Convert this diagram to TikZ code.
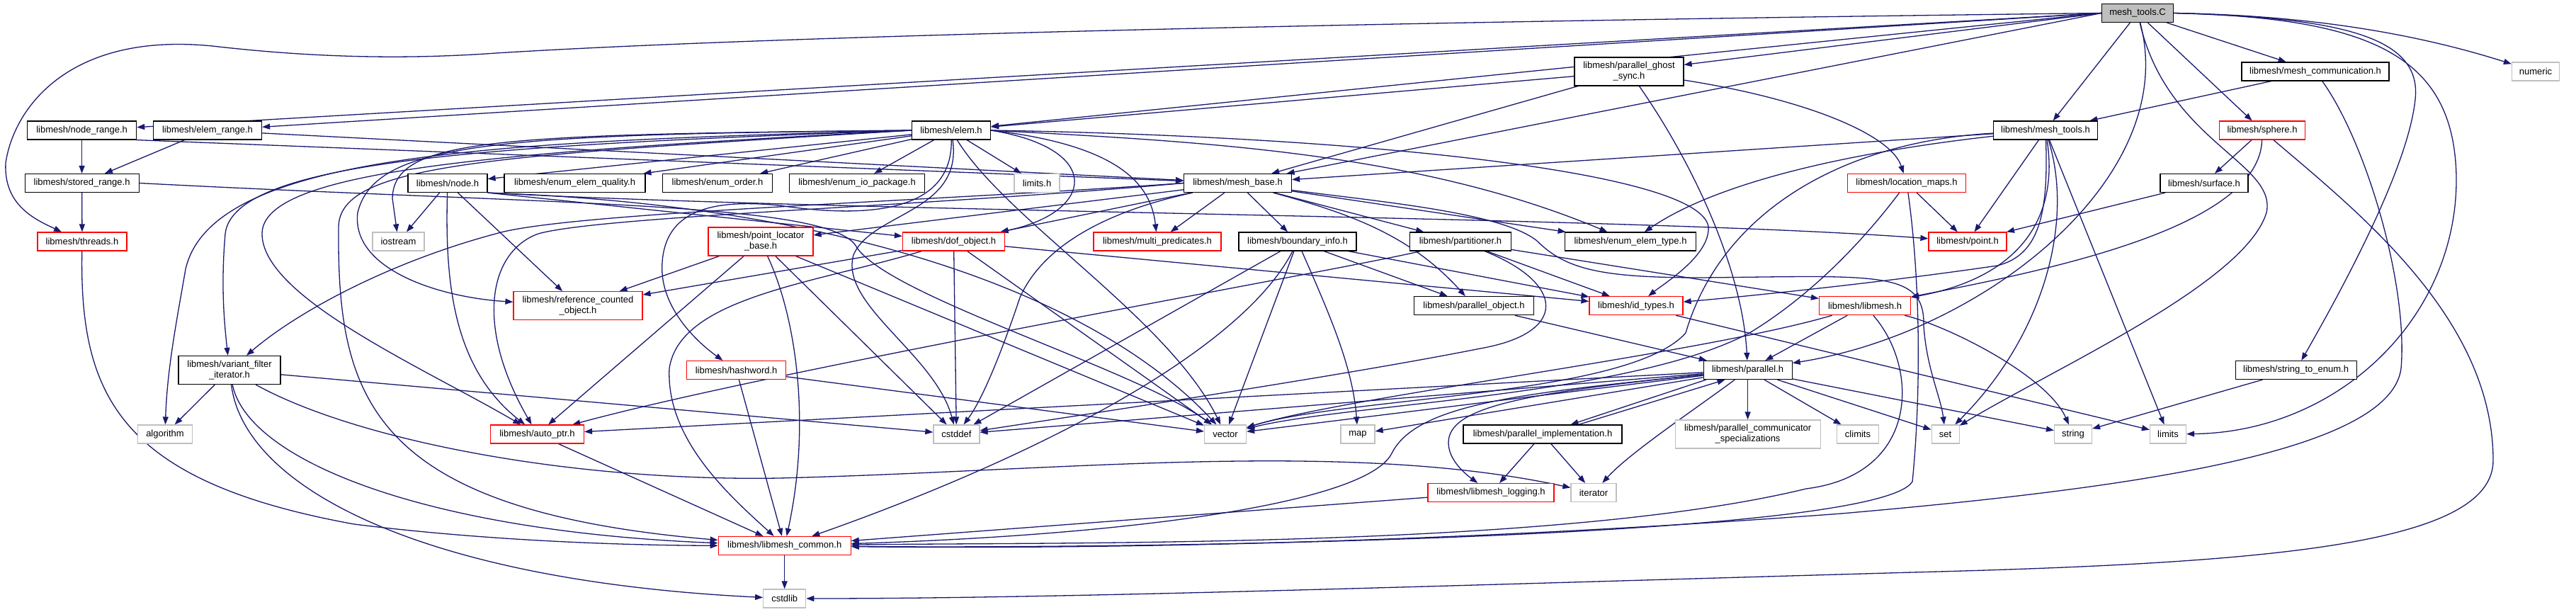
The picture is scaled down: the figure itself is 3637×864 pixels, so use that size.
\documentclass[tikz,border=0pt]{standalone}
\usepackage{fontspec}
\setmainfont{Liberation Sans}
\usetikzlibrary{arrows.meta}
\definecolor{edgec}{HTML}{191970}
\definecolor{grayb}{HTML}{BFBFBF}
\definecolor{redb}{HTML}{FF0000}
\pgfdeclarelayer{bg}
\pgfsetlayers{bg,main}
\newcommand\mknode[6]{\node[#1, minimum width=#4pt, minimum height=#5pt] (#2) at (#3) {#6};}
\begin{document}
\begin{tikzpicture}[x=1pt,y=-1pt,
  nb/.style={rectangle, inner sep=0pt, line width=1.2pt, font=\fontsize{13pt}{15pt}\selectfont, align=center, fill=white},
  blkbox/.style={nb, draw=black},
  redbox/.style={nb, draw=redb},
  graybox/.style={nb, draw=grayb},
  rootbox/.style={nb, draw=black, fill=grayb},
  e/.style={draw=edgec, line width=1.3pt, -{Triangle[length=11pt,width=8pt]}}]
\useasboundingbox (0,0) rectangle (3637,864);
\mknode{rootbox}{mtc}{3018,18.5}{101}{26}{mesh\_tools.C}
\mknode{blkbox}{noderange}{115.6,184}{154}{26}{libmesh/node\_range.h}
\mknode{blkbox}{elemrange}{293,184}{153}{26}{libmesh/elem\_range.h}
\mknode{blkbox}{storedrange}{115.6,258.5}{161}{26}{libmesh/stored\_range.h}
\mknode{redbox}{threads}{116,341}{126}{26}{libmesh/threads.h}
\mknode{blkbox}{nodeh}{632,258.5}{112}{26}{libmesh/node.h}
\mknode{blkbox}{eeq}{811.5,258.5}{199}{26}{libmesh/enum\_elem\_quality.h}
\mknode{graybox}{iostream}{562.5,341}{73}{26}{iostream}
\mknode{redbox}{refcount}{816,431.7}{182}{40}{libmesh/reference\_counted\\\_object.h}
\mknode{blkbox}{vfi}{324,522.5}{144}{40}{libmesh/variant\_filter\\\_iterator.h}
\mknode{graybox}{algorithm}{233,613}{77}{26}{algorithm}
\mknode{redbox}{autoptr}{758.4,613}{132}{26}{libmesh/auto\_ptr.h}
\mknode{blkbox}{elemh}{1343,184}{111}{26}{libmesh/elem.h}
\mknode{blkbox}{enumorder}{1013,258.5}{155}{26}{libmesh/enum\_order.h}
\mknode{blkbox}{enumio}{1210,258.5}{191}{26}{libmesh/enum\_io\_package.h}
\mknode{graybox}{limitsh}{1464,258.5}{64}{26}{limits.h}
\mknode{blkbox}{meshbase}{1747.5,258.5}{152}{26}{libmesh/mesh\_base.h}
\mknode{redbox}{plb}{1074,341}{148}{40}{libmesh/point\_locator\\\_base.h}
\mknode{redbox}{dof}{1346.5,341}{144}{26}{libmesh/dof\_object.h}
\mknode{redbox}{multipred}{1634,341}{180}{26}{libmesh/multi\_predicates.h}
\mknode{blkbox}{boundary}{1832,341}{166}{26}{libmesh/boundary\_info.h}
\mknode{blkbox}{pgs}{2300,101}{154}{40}{libmesh/parallel\_ghost\\\_sync.h}
\mknode{redbox}{locmaps}{2692,258.5}{167}{26}{libmesh/location\_maps.h}
\mknode{blkbox}{partitioner}{2062,341}{143}{26}{libmesh/partitioner.h}
\mknode{blkbox}{eet}{2302,341}{185}{26}{libmesh/enum\_elem\_type.h}
\mknode{blkbox}{parobj}{2081,431.7}{169}{26}{libmesh/parallel\_object.h}
\mknode{redbox}{idtypes}{2310,431.7}{132}{26}{libmesh/id\_types.h}
\mknode{redbox}{libmeshh}{2633,431.7}{129}{26}{libmesh/libmesh.h}
\mknode{blkbox}{mcomm}{3269,101}{208}{26}{libmesh/mesh\_communication.h}
\mknode{graybox}{numeric}{3580,101}{67}{26}{numeric}
\mknode{blkbox}{meshtoolsh}{2888,184}{147}{26}{libmesh/mesh\_tools.h}
\mknode{redbox}{sphere}{3194,184}{121}{26}{libmesh/sphere.h}
\mknode{blkbox}{surface}{3112,258.5}{124}{26}{libmesh/surface.h}
\mknode{redbox}{point}{2778,341}{110}{26}{libmesh/point.h}
\mknode{redbox}{hashword}{1039.6,522.5}{140}{26}{libmesh/hashword.h}
\mknode{graybox}{cstddef}{1350.4,613}{65}{26}{cstddef}
\mknode{graybox}{vector}{1730,613}{59}{26}{vector}
\mknode{redbox}{common}{1107.7,770.5}{187}{26}{libmesh/libmesh\_common.h}
\mknode{graybox}{cstdlib}{1107.7,845}{60}{26}{cstdlib}
\mknode{blkbox}{parallel}{2467.6,522.5}{125}{26}{libmesh/parallel.h}
\mknode{graybox}{map}{1917,613}{48}{26}{map}
\mknode{blkbox}{parimpl}{2178,613}{224}{26}{libmesh/parallel\_implementation.h}
\mknode{graybox}{commspec}{2467.6,613}{205}{40}{libmesh/parallel\_communicator\\\_specializations}
\mknode{graybox}{climits}{2623,613}{59}{26}{climits}
\mknode{redbox}{logging}{2105,695.5}{178}{26}{libmesh/libmesh\_logging.h}
\mknode{graybox}{iterator}{2250,695.5}{64}{26}{iterator}
\mknode{graybox}{set}{2746.6,613}{39}{26}{set}
\mknode{graybox}{string}{2927,613}{53}{26}{string}
\mknode{graybox}{limits}{3061,613}{51}{26}{limits}
\mknode{blkbox}{s2e}{3241.6,522.5}{171}{26}{libmesh/string\_to\_enum.h}
\begin{pgfonlayer}{bg}
\fill[white] (0,0) rectangle (3637,864);
% mesh_tools.C
\draw[e] (mtc.west) -- (noderange);
\draw[e] (mtc.west) -- (elemrange);
\draw[e] (mtc.west) .. controls (2000,30) and (1100,50) .. (700,75) .. controls (560,85) and (430,80) .. (300,65) .. controls (100,45) and (20,150) .. (8,230) .. controls (5,290) and (50,310) .. (threads);
\draw[e] (mtc.west) -- (elemh);
\draw[e] (mtc.west) -- (meshbase);
\draw[e] (mtc.west) -- (pgs);
\draw[e] (mtc) -- (meshtoolsh);
\draw[e] (mtc) -- (sphere);
\draw[e] (mtc) -- (mcomm);
\draw[e] (mtc.east) .. controls (3300,22) and (3450,60) .. (numeric);
\draw[e] (mtc.east) .. controls (3300,25) and (3420,50) .. (3410,140) .. controls (3400,240) and (3300,420) .. (s2e);
\draw[e] (mtc.east) .. controls (3350,25) and (3465,80) .. (3468,250) .. controls (3470,450) and (3300,610) .. (limits);
\draw[e] (mtc) .. controls (3060,200) and (3215,230) .. (3200,300) .. controls (3170,400) and (2900,520) .. (set);
\draw[e] (mtc) .. controls (3080,250) and (2800,470) .. (parallel);
% parallel_ghost_sync
\draw[e] (pgs) -- (elemh);
\draw[e] (pgs) -- (meshbase);
\draw[e] (pgs) .. controls (2550,140) and (2670,190) .. (locmaps);
\draw[e] (pgs) .. controls (2390,230) and (2460,380) .. (parallel);
% mesh_communication
\draw[e] (mcomm) -- (meshtoolsh);
\draw[e] (mcomm) .. controls (3340,200) and (3400,400) .. (3390,520) .. controls (3375,640) and (3000,690) .. (2600,725) .. controls (2000,770) and (1500,775) .. (common);
% sphere, surface
\draw[e] (sphere) -- (surface);
\draw[e] (sphere) .. controls (3190,320) and (2900,380) .. (libmeshh);
\draw[e] (sphere) .. controls (3330,300) and (3520,450) .. (3520,650) .. controls (3520,770) and (3200,795) .. (2700,808) .. controls (2000,828) and (1500,845) .. (cstdlib);
\draw[e] (surface) -- (point);
% mesh_tools.h
\draw[e] (meshtoolsh) -- (meshbase);
\draw[e] (meshtoolsh) .. controls (2700,205) and (2450,240) .. (eet);
\draw[e] (meshtoolsh) -- (point);
\draw[e] (meshtoolsh) .. controls (2892,300) and (2880,360) .. (2820,375) .. controls (2650,400) and (2450,420) .. (idtypes);
\draw[e] (meshtoolsh) .. controls (2906,300) and (2860,390) .. (libmeshh);
\draw[e] (meshtoolsh) .. controls (2930,320) and (2880,480) .. (set);
\draw[e] (meshtoolsh) -- (limits);
\draw[e] (meshtoolsh) .. controls (2600,200) and (2430,300) .. (2380,470) .. controls (2300,560) and (1900,560) .. (vector);
% location_maps
\draw[e] (locmaps) -- (point);
\draw[e] (locmaps) .. controls (2600,380) and (2520,440) .. (2470,470) .. controls (2300,560) and (1900,570) .. (vector);
\draw[e] (locmaps) .. controls (2712,400) and (2712,560) .. (2700,680) .. controls (2650,760) and (1600,775) .. (common);
% libmesh.h
\draw[e] (libmeshh) -- (parallel);
\draw[e] (libmeshh) .. controls (2750,460) and (2890,530) .. (string);
\draw[e] (libmeshh) .. controls (2710,520) and (2710,670) .. (2550,690) .. controls (2200,775) and (1500,765) .. (common);
\draw[e] (libmeshh) .. controls (2400,500) and (1900,560) .. (vector);
% id_types, parallel_object, partitioner
\draw[e] (idtypes) -- (limits);
\draw[e] (parobj) -- (parallel);
\draw[e] (partitioner) -- (idtypes);
\draw[e] (partitioner) -- (libmeshh);
\draw[e] (partitioner) .. controls (1900,380) and (1100,520) .. (autoptr);
\draw[e] (partitioner) .. controls (2210,400) and (2215,470) .. (2090,492) .. controls (1900,530) and (1500,590) .. (cstddef);
% boundary_info
\draw[e] (boundary) -- (idtypes);
\draw[e] (boundary) -- (parobj);
\draw[e] (boundary) -- (cstddef);
\draw[e] (boundary) -- (vector);
\draw[e] (boundary) .. controls (1880,450) and (1910,520) .. (map);
\draw[e] (boundary) .. controls (1750,500) and (1450,650) .. (common);
% point_locator_base
\draw[e] (plb) -- (refcount);
\draw[e] (plb) -- (autoptr);
\draw[e] (plb) .. controls (1125,450) and (1145,600) .. (common);
\draw[e] (plb) -- (cstddef);
\draw[e] (plb) -- (vector);
% dof_object
\draw[e] (dof) -- (refcount);
\draw[e] (dof) -- (idtypes);
\draw[e] (dof) -- (cstddef);
\draw[e] (dof) -- (vector);
\draw[e] (dof) .. controls (1150,400) and (960,420) .. (945,520) .. controls (940,620) and (1030,700) .. (common);
% node.h
\draw[e] (nodeh) -- (iostream);
\draw[e] (nodeh) -- (refcount);
\draw[e] (nodeh) .. controls (628,400) and (640,520) .. (autoptr);
\draw[e] (nodeh.south east) -- (dof);
\draw[e] (nodeh.south east) .. controls (1200,300) and (2300,305) .. (point);
\draw[e] (nodeh.south east) .. controls (1200,290) and (1550,420) .. (vector);
% mesh_base.h
\draw[e] (meshbase) -- (plb);
\draw[e] (meshbase) -- (dof);
\draw[e] (meshbase) -- (multipred);
\draw[e] (meshbase) -- (boundary);
\draw[e] (meshbase) -- (partitioner);
\draw[e] (meshbase) -- (eet);
\draw[e] (meshbase) .. controls (1900,300) and (1990,330) .. (parobj);
\draw[e] (meshbase.west) .. controls (1300,285) and (800,300) .. (700,330) .. controls (550,370) and (420,440) .. (vfi);
\draw[e] (meshbase.west) .. controls (1300,292) and (850,305) .. (760,330) .. controls (690,355) and (670,460) .. (autoptr);
\draw[e] (meshbase) .. controls (1600,290) and (1480,330) .. (1440,420) .. controls (1420,480) and (1390,560) .. (cstddef);
\draw[e] (meshbase) .. controls (1950,285) and (2120,300) .. (2170,340) .. controls (2210,380) and (2260,392) .. (2400,392) .. controls (2650,390) and (2718,380) .. (2716,460) .. controls (2720,520) and (2740,560) .. (set);
% variant_filter_iterator
\draw[e] (vfi) -- (algorithm);
\draw[e] (vfi) -- (cstddef);
\draw[e] (vfi) .. controls (350,650) and (600,750) .. (common);
\draw[e] (vfi) .. controls (345,690) and (600,820) .. (cstdlib);
\draw[e] (vfi) .. controls (500,620) and (800,680) .. (1100,675) .. controls (1500,665) and (1900,620) .. (iterator);
% elem.h
\draw[e] (elemh) -- (eeq);
\draw[e] (elemh) -- (enumorder);
\draw[e] (elemh) -- (enumio);
\draw[e] (elemh) -- (limitsh);
\draw[e] (elemh) -- (nodeh);
\draw[e] (elemh.west) .. controls (700,190) and (556,195) .. (554,280) -- (iostream);
\draw[e] (elemh.west) .. controls (700,190) and (530,200) .. (505,300) .. controls (495,380) and (620,420) .. (refcount);
\draw[e] (elemh.west) .. controls (700,200) and (300,215) .. (262,380) .. controls (250,450) and (236,520) .. (algorithm);
\draw[e] (elemh.west) .. controls (700,205) and (330,225) .. (318,330) .. controls (312,400) and (316,450) .. (vfi);
\draw[e] (elemh.west) .. controls (700,215) and (370,240) .. (370,330) .. controls (370,420) and (600,520) .. (autoptr);
\draw[e] (elemh.west) .. controls (700,220) and (480,230) .. (478,320) .. controls (476,560) and (520,720) .. (common);
\draw[e] (elemh.east) .. controls (1560,210) and (1545,300) .. (dof);
\draw[e] (elemh.east) .. controls (1580,205) and (1625,260) .. (multipred);
\draw[e] (elemh.east) .. controls (1700,200) and (2000,215) .. (eet);
\draw[e] (elemh.east) .. controls (1900,192) and (2400,240) .. (2412,320) .. controls (2415,360) and (2350,400) .. (idtypes);
\draw[e] (elemh) .. controls (1345,310) and (1200,305) .. (1100,290) .. controls (1000,280) and (940,300) .. (935,370) .. controls (930,430) and (980,480) .. (hashword);
\draw[e] (elemh) .. controls (1360,300) and (1230,300) .. (1205,360) .. controls (1185,430) and (1320,500) .. (cstddef);
\draw[e] (elemh) .. controls (1420,310) and (1650,450) .. (vector);
% ranges, threads
\draw[e] (noderange) -- (storedrange);
\draw[e] (elemrange) -- (storedrange);
\draw[e] (noderange.south east) -- (meshbase);
\draw[e] (elemrange) -- (meshbase);
\draw[e] (storedrange) -- (threads);
\draw[e] (storedrange.east) .. controls (800,290) and (1180,285) .. (1210,350) .. controls (1260,420) and (1600,520) .. (vector);
\draw[e] (threads) .. controls (112,560) and (170,680) .. (500,740) .. controls (700,765) and (900,770) .. (common);
% leaves
\draw[e] (hashword) -- (vector);
\draw[e] (hashword) -- (common);
\draw[e] (autoptr) -- (common);
\draw[e] (logging) -- (common);
\draw[e] (common) -- (cstdlib);
% parallel.h
\draw[e] (parallel) .. controls (2150,555) and (2000,570) .. (1965,640) .. controls (1930,710) and (1600,755) .. (common);
\draw[e] (parallel) -- (autoptr);
\draw[e] (parallel) -- (cstddef);
\draw[e] (parallel) -- (vector);
\draw[e] (parallel) -- (map);
\draw[e] (parallel) -- (set);
\draw[e] (parallel) -- (string);
\draw[e] (parallel) -- (climits);
\draw[e] (parallel) -- (commspec);
\draw[e] (parallel) .. controls (2390,580) and (2300,640) .. (iterator);
\draw[e] (parallel) .. controls (2150,555) and (2045,575) .. (2045,625) .. controls (2045,650) and (2070,670) .. (logging);
\draw[e] (parallel.193) -- (parimpl.19);
\draw[e] (parimpl.15) -- (parallel.203);
\draw[e] (parimpl) -- (logging);
\draw[e] (parimpl) -- (iterator);
\draw[e] (s2e) -- (string);
\end{pgfonlayer}
\end{tikzpicture}
\end{document}
